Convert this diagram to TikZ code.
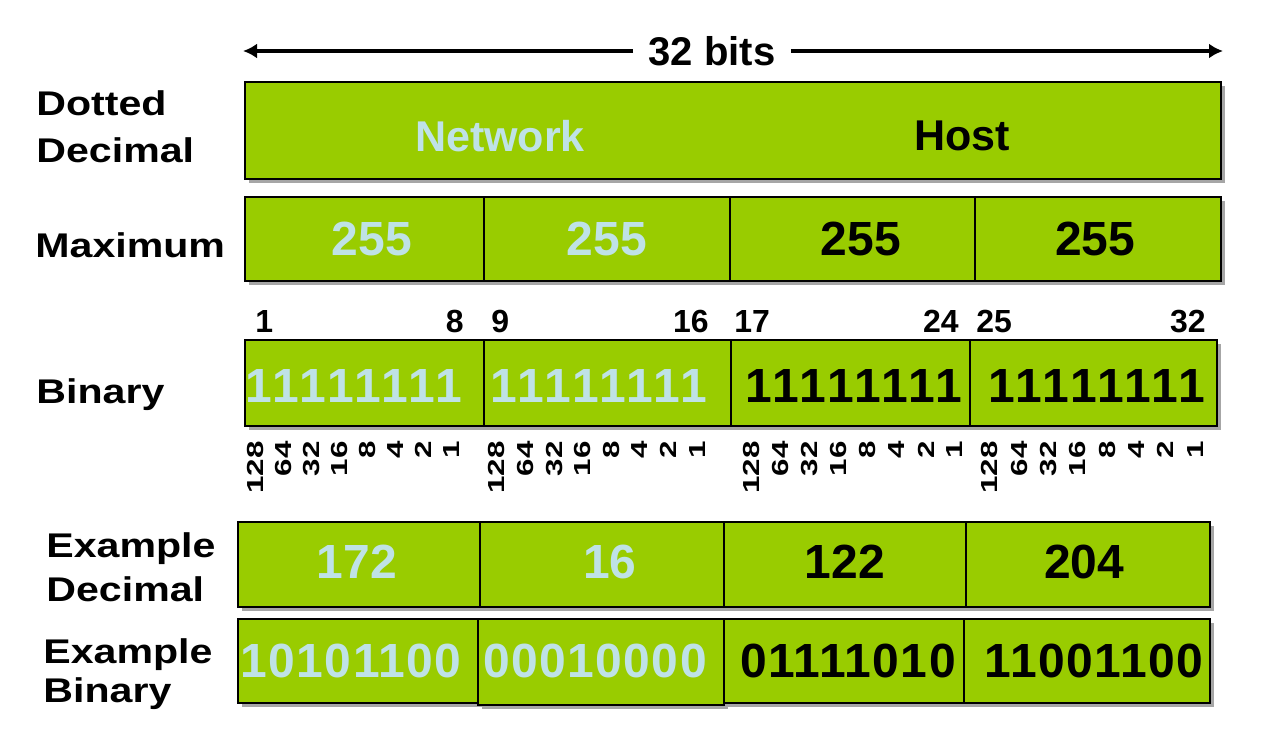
\documentclass[tikz,border=0pt]{standalone}
\usepackage{fontspec}
\setmainfont{Liberation Sans}
\usetikzlibrary{arrows.meta,shadows}
\definecolor{ipgreen}{HTML}{99CC00}
\definecolor{iplight}{HTML}{BFE2E6}

\begin{document}
\begin{tikzpicture}[x=0.02cm,y=-0.02cm,>={Latex[length=0.28cm,width=0.3cm]},
  every node/.style={inner sep=0pt,font=\bfseries},
  cell/.style={draw=black,line width=1.1pt,fill=ipgreen,
    drop shadow={shadow xshift=0.07cm,shadow yshift=-0.07cm,fill=black!35,opacity=1}},
  rowlabel/.style={anchor=west,align=left,xscale=1.2,font=\bfseries\fontsize{19.5}{25}\selectfont},
  val/.style={font=\bfseries\fontsize{27.3}{30}\selectfont},
  onesval/.style={font=\bfseries\fontsize{27.3}{30}\selectfont\addfontfeatures{LetterSpace=6.5}},
  binval/.style={font=\bfseries\fontsize{27.3}{30}\selectfont\addfontfeatures{LetterSpace=3}},
  lite/.style={text=iplight},
  bitno/.style={font=\bfseries\fontsize{18.2}{20}\selectfont},
  weight/.style={rotate=90,xscale=1.35,anchor=east,font=\bfseries\fontsize{13.2}{14}\selectfont}]
\fill[white] (0,0) rectangle (1264,754);
\useasboundingbox (0,0) rectangle (1264,754);

% 32 bits arrow
\node[font=\bfseries\fontsize{22.8}{24}\selectfont,inner xsep=0.3cm] (bits) at (712,51) {32 bits};
\coordinate (bitsL) at (243,51);
\coordinate (bitsR) at (1223,51);
\draw[->,line width=2.3pt] (bits.west) -- (bitsL);
\draw[->,line width=2.3pt] (bits.east) -- (bitsR);

% Row labels
\node[rowlabel] (lbdot) at (36,126.5) {Dotted\\[1.7pt]Decimal};
\node[rowlabel,anchor=base west] (lbmax) at (35,257) {Maximum};
\node[rowlabel,anchor=base west] (lbbin) at (36,403) {Binary};
\node[rowlabel] (lbexd) at (46,567) {Example\\Decimal};
\node[rowlabel] (lbexb) at (43,674) {Example\\[-2.8pt]Binary};

% Dotted decimal: network / host
\draw[cell] (245,82) rectangle (1221,179);
\node[lite,font=\bfseries\fontsize{24.5}{26}\selectfont] (net) at (500,136) {Network};
\node[font=\bfseries\fontsize{24.5}{26}\selectfont] (host) at (962,136) {Host};

% Maximum
\draw[cell] (245,197) rectangle (484,281);
\draw[cell] (484,197) rectangle (730,281);
\draw[cell] (730,197) rectangle (975,281);
\draw[cell] (975,197) rectangle (1221,281);
\node[val,lite] (max1) at (372,239) {255};
\node[val,lite] (max2) at (607,239) {255};
\node[val] (max3) at (861,239) {255};
\node[val] (max4) at (1095,239) {255};

% Bit positions
\node[bitno,anchor=base west] (b1) at (255,332) {1};
\node[bitno,anchor=base east] (b8) at (464,332) {8};
\node[bitno,anchor=base west] (b9) at (491,332) {9};
\node[bitno,anchor=base east] (b16) at (709,332) {16};
\node[bitno,anchor=base west] (b17) at (734,332) {17};
\node[bitno,anchor=base east] (b24) at (959,332) {24};
\node[bitno,anchor=base west] (b25) at (976,332) {25};
\node[bitno,anchor=base east] (b32) at (1206,332) {32};

% Binary
\draw[cell] (245,340) rectangle (484,426);
\draw[cell] (484,340) rectangle (731,426);
\draw[cell] (731,340) rectangle (970,426);
\draw[cell] (970,340) rectangle (1217,426);
\node[onesval,lite] (bin1) at (354,386) {11111111};
\node[onesval,lite] (bin2) at (599,386) {11111111};
\node[onesval] (bin3) at (854,386) {11111111};
\node[onesval] (bin4) at (1097,386) {11111111};

% Bit weights
\foreach \g/\x/\dx in {1/256/27.9,2/497/28.6,3/752/29,4/990/29.3}
  \foreach \w [count=\i from 0] in {128,64,32,16,8,4,2,1}
    \node[weight] (w\g-\i) at (\x+\i*\dx,441) {\w};

% Example decimal
\draw[cell] (238,522) rectangle (480,607);
\draw[cell] (480,522) rectangle (724,607);
\draw[cell] (724,522) rectangle (966,607);
\draw[cell] (966,522) rectangle (1210,607);
\node[val,lite] (exd1) at (357,562) {172};
\node[val,lite] (exd2) at (610,562) {16};
\node[val] (exd3) at (845,562) {122};
\node[val] (exd4) at (1084,562) {204};

% Example binary
\draw[cell] (238,619) rectangle (478,703);
\draw[cell] (478,619) rectangle (724,705);
\draw[cell] (724,619) rectangle (964,703);
\draw[cell] (964,619) rectangle (1210,703);
\node[binval,lite] (exb1) at (351,661) {10101100};
\node[binval,lite] (exb2) at (595,661) {00010000};
\node[binval] (exb3) at (848,661) {01111010};
\node[binval] (exb4) at (1094,661) {11001100};
\end{tikzpicture}
\end{document}
